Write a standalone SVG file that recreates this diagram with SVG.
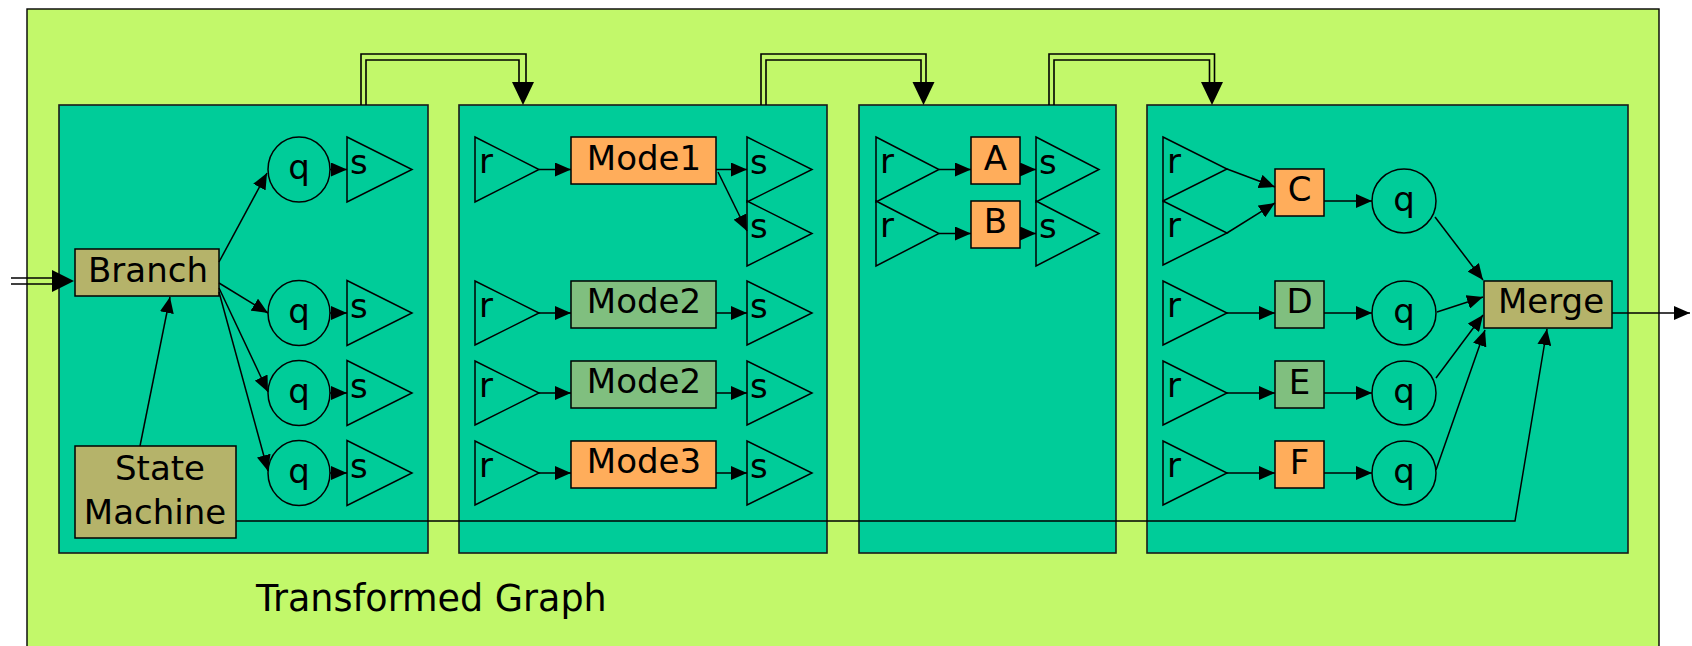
<svg xmlns="http://www.w3.org/2000/svg" width="1692" height="646" viewBox="0 0 1692 646">
<defs>
<marker id="ah" markerUnits="userSpaceOnUse" markerWidth="16" markerHeight="14" refX="16" refY="7" orient="auto">
<path d="M0,0 L16,7 L0,14 z" fill="#000"/>
</marker>
<style>
.outer{fill:#c2f86a;stroke:#000;stroke-width:1.4}
.panel{fill:#00cc99;stroke:#1a1a1a;stroke-width:1.6}
.tri{fill:#00cc99;stroke:#000;stroke-width:1.5}
.circ{fill:#00cc99;stroke:#000;stroke-width:1.5}
.box{stroke:#000;stroke-width:1.5}
.org{fill:#ffad5b}
.grn{fill:#80bf7f}
.olv{fill:#b5b36a}
text{font-family:"DejaVu Sans","Liberation Sans",sans-serif;font-size:34px;fill:#000}
.lbl{text-anchor:middle}
.title{font-size:36.5px}
.edge{fill:none;stroke:#000;stroke-width:1.5;marker-end:url(#ah)}
.dbl{fill:none;stroke:#000;stroke-width:1.6}
</style>
</defs>

<rect class="outer" x="27" y="9" width="1632" height="660"/>
<text class="title" x="256" y="611">Transformed Graph</text>

<g id="panel1"><rect class="panel" x="59" y="105" width="369" height="448"/></g>
<g id="panel2"><rect class="panel" x="459" y="105" width="368" height="448"/></g>
<g id="panel3"><rect class="panel" x="859" y="105" width="257" height="448"/></g>
<g id="panel4"><rect class="panel" x="1147" y="105" width="481" height="448"/></g>

<!-- Panel 1 nodes -->
<g id="branch"><rect class="box olv" x="75" y="249" width="144" height="47"/><text class="lbl" x="148" y="282">Branch</text></g>
<g id="statemachine"><rect class="box olv" x="75" y="446" width="161" height="92"/><text class="lbl" x="160" y="480">State</text><text class="lbl" x="155" y="524">Machine</text></g>
<g id="p1q1"><ellipse class="circ" cx="299" cy="169.5" rx="31" ry="32.5"/><text class="lbl" x="299" y="179">q</text></g>
<g id="p1q2"><ellipse class="circ" cx="299" cy="313" rx="31" ry="32.5"/><text class="lbl" x="299" y="323">q</text></g>
<g id="p1q3"><ellipse class="circ" cx="299" cy="393" rx="31" ry="32.5"/><text class="lbl" x="299" y="403">q</text></g>
<g id="p1q4"><ellipse class="circ" cx="299" cy="473" rx="31" ry="32.5"/><text class="lbl" x="299" y="483">q</text></g>
<g id="p1s1"><polygon class="tri" points="347,137 412,169.5 347,202"/><text x="350" y="174">s</text></g>
<g id="p1s2"><polygon class="tri" points="347,280.5 412,313 347,345.5"/><text x="350" y="318">s</text></g>
<g id="p1s3"><polygon class="tri" points="347,360.5 412,393 347,425.5"/><text x="350" y="398">s</text></g>
<g id="p1s4"><polygon class="tri" points="347,440.5 412,473 347,505.5"/><text x="350" y="478">s</text></g>

<!-- Panel 2 nodes -->
<g id="p2r1"><polygon class="tri" points="475,137 539,169.5 475,202"/><text x="479" y="173">r</text></g>
<g id="p2r2"><polygon class="tri" points="475,281 539,313 475,345"/><text x="479" y="317">r</text></g>
<g id="p2r3"><polygon class="tri" points="475,361 539,393 475,425"/><text x="479" y="397">r</text></g>
<g id="p2r4"><polygon class="tri" points="475,441 539,473 475,505"/><text x="479" y="477">r</text></g>
<g id="mode1"><rect class="box org" x="571" y="137" width="145" height="47"/><text class="lbl" x="644" y="170">Mode1</text></g>
<g id="mode2a"><rect class="box grn" x="571" y="281" width="145" height="47"/><text class="lbl" x="644" y="313">Mode2</text></g>
<g id="mode2b"><rect class="box grn" x="571" y="361" width="145" height="47"/><text class="lbl" x="644" y="393">Mode2</text></g>
<g id="mode3"><rect class="box org" x="571" y="441" width="145" height="47"/><text class="lbl" x="644" y="473">Mode3</text></g>
<g id="p2s1"><polygon class="tri" points="747,137 812,169.5 747,202"/><text x="750" y="174">s</text></g>
<g id="p2s2"><polygon class="tri" points="747,201 812,233.5 747,266"/><text x="750" y="238">s</text></g>
<g id="p2s3"><polygon class="tri" points="747,281 812,313 747,345"/><text x="750" y="318">s</text></g>
<g id="p2s4"><polygon class="tri" points="747,361 812,393 747,425"/><text x="750" y="398">s</text></g>
<g id="p2s5"><polygon class="tri" points="747,441 812,473 747,505"/><text x="750" y="478">s</text></g>

<!-- Panel 3 nodes -->
<g id="p3r1"><polygon class="tri" points="876,137 939,169.5 876,202"/><text x="880" y="173">r</text></g>
<g id="p3r2"><polygon class="tri" points="876,201 939,233.5 876,266"/><text x="880" y="237">r</text></g>
<g id="nodeA"><rect class="box org" x="971" y="137" width="49" height="47"/><text class="lbl" x="995.5" y="170">A</text></g>
<g id="nodeB"><rect class="box org" x="971" y="201" width="49" height="47"/><text class="lbl" x="995.5" y="233">B</text></g>
<g id="p3s1"><polygon class="tri" points="1036,137 1099,169.5 1036,202"/><text x="1039" y="174">s</text></g>
<g id="p3s2"><polygon class="tri" points="1036,201 1099,233.5 1036,266"/><text x="1039" y="238">s</text></g>

<!-- Panel 4 nodes -->
<g id="p4r1"><polygon class="tri" points="1163,137 1227,169 1163,201"/><text x="1167" y="173">r</text></g>
<g id="p4r2"><polygon class="tri" points="1163,201 1227,233 1163,265"/><text x="1167" y="237">r</text></g>
<g id="p4r3"><polygon class="tri" points="1163,281 1227,313 1163,345"/><text x="1167" y="317">r</text></g>
<g id="p4r4"><polygon class="tri" points="1163,361 1227,393 1163,425"/><text x="1167" y="397">r</text></g>
<g id="p4r5"><polygon class="tri" points="1163,441 1227,473 1163,505"/><text x="1167" y="477">r</text></g>
<g id="nodeC"><rect class="box org" x="1275" y="169" width="49" height="47"/><text class="lbl" x="1299.5" y="201">C</text></g>
<g id="nodeD"><rect class="box grn" x="1275" y="281" width="49" height="47"/><text class="lbl" x="1299.5" y="313">D</text></g>
<g id="nodeE"><rect class="box grn" x="1275" y="361" width="49" height="47"/><text class="lbl" x="1299.5" y="394">E</text></g>
<g id="nodeF"><rect class="box org" x="1275" y="441" width="49" height="47"/><text class="lbl" x="1299.5" y="474">F</text></g>
<g id="p4q1"><ellipse class="circ" cx="1404" cy="201" rx="32" ry="32"/><text class="lbl" x="1404" y="211">q</text></g>
<g id="p4q2"><ellipse class="circ" cx="1404" cy="313" rx="32" ry="32"/><text class="lbl" x="1404" y="323">q</text></g>
<g id="p4q3"><ellipse class="circ" cx="1404" cy="393" rx="32" ry="32"/><text class="lbl" x="1404" y="403">q</text></g>
<g id="p4q4"><ellipse class="circ" cx="1404" cy="473" rx="32" ry="32"/><text class="lbl" x="1404" y="483">q</text></g>
<g id="merge"><rect class="box olv" x="1484" y="281" width="128" height="47"/><text class="lbl" x="1551" y="313">Merge</text></g>

<!-- Connectors -->
<g id="connectors">
<line class="dbl" x1="11" y1="278" x2="53" y2="278"/>
<line class="dbl" x1="11" y1="284" x2="53" y2="284"/>
<polygon points="52,270 74,281 52,292" fill="#000"/>
<path class="dbl" d="M361,105 V54 H526 V83"/>
<path class="dbl" d="M366,105 V60 H519 V83"/>
<polygon points="512,82 534,82 523,105" fill="#000"/>
<path class="dbl" d="M761,105 V54 H926 V83"/>
<path class="dbl" d="M766,105 V60 H921 V83"/>
<polygon points="912.5,82 934.5,82 923.5,105" fill="#000"/>
<path class="dbl" d="M1049,105 V54 H1214.5 V83"/>
<path class="dbl" d="M1054,105 V60 H1209.5 V83"/>
<polygon points="1201,82 1223,82 1212,105" fill="#000"/>

<line class="edge" x1="219" y1="262" x2="267" y2="173"/>
<line class="edge" x1="219" y1="283" x2="268" y2="313"/>
<line class="edge" x1="219" y1="288" x2="268" y2="392"/>
<line class="edge" x1="219" y1="292" x2="268" y2="471"/>
<line class="edge" x1="330" y1="169.5" x2="347" y2="169.5"/>
<line class="edge" x1="330" y1="313" x2="347" y2="313"/>
<line class="edge" x1="330" y1="393" x2="347" y2="393"/>
<line class="edge" x1="330" y1="473" x2="347" y2="473"/>
<line class="edge" x1="140" y1="446" x2="170" y2="297"/>
<polyline class="edge" points="236,521 1515,521 1547,329"/>

<line class="edge" x1="539" y1="169.5" x2="571" y2="169.5"/>
<line class="edge" x1="539" y1="313" x2="571" y2="313"/>
<line class="edge" x1="539" y1="393" x2="571" y2="393"/>
<line class="edge" x1="539" y1="473" x2="571" y2="473"/>
<line class="edge" x1="716" y1="169.5" x2="747" y2="169.5"/>
<line class="edge" x1="718" y1="172" x2="747" y2="231"/>
<line class="edge" x1="716" y1="313" x2="747" y2="313"/>
<line class="edge" x1="716" y1="393" x2="747" y2="393"/>
<line class="edge" x1="716" y1="473" x2="747" y2="473"/>

<line class="edge" x1="939" y1="169.5" x2="971" y2="169.5"/>
<line class="edge" x1="939" y1="233.5" x2="971" y2="233.5"/>
<line class="edge" x1="1020" y1="169.5" x2="1036" y2="169.5"/>
<line class="edge" x1="1020" y1="233.5" x2="1036" y2="233.5"/>

<line class="edge" x1="1227" y1="169" x2="1275" y2="187"/>
<line class="edge" x1="1227" y1="233" x2="1275" y2="203"/>
<line class="edge" x1="1227" y1="313" x2="1275" y2="313"/>
<line class="edge" x1="1227" y1="393" x2="1275" y2="393"/>
<line class="edge" x1="1227" y1="473" x2="1275" y2="473"/>
<line class="edge" x1="1324" y1="201" x2="1372" y2="201"/>
<line class="edge" x1="1324" y1="313" x2="1372" y2="313"/>
<line class="edge" x1="1324" y1="393" x2="1372" y2="393"/>
<line class="edge" x1="1324" y1="473" x2="1372" y2="473"/>
<line class="edge" x1="1435" y1="217" x2="1483" y2="280"/>
<line class="edge" x1="1437" y1="312" x2="1483" y2="297"/>
<line class="edge" x1="1436" y1="378" x2="1483" y2="315"/>
<line class="edge" x1="1436" y1="470" x2="1485" y2="330"/>
<line class="edge" x1="1612" y1="313" x2="1690" y2="313"/>
</g>
</svg>
